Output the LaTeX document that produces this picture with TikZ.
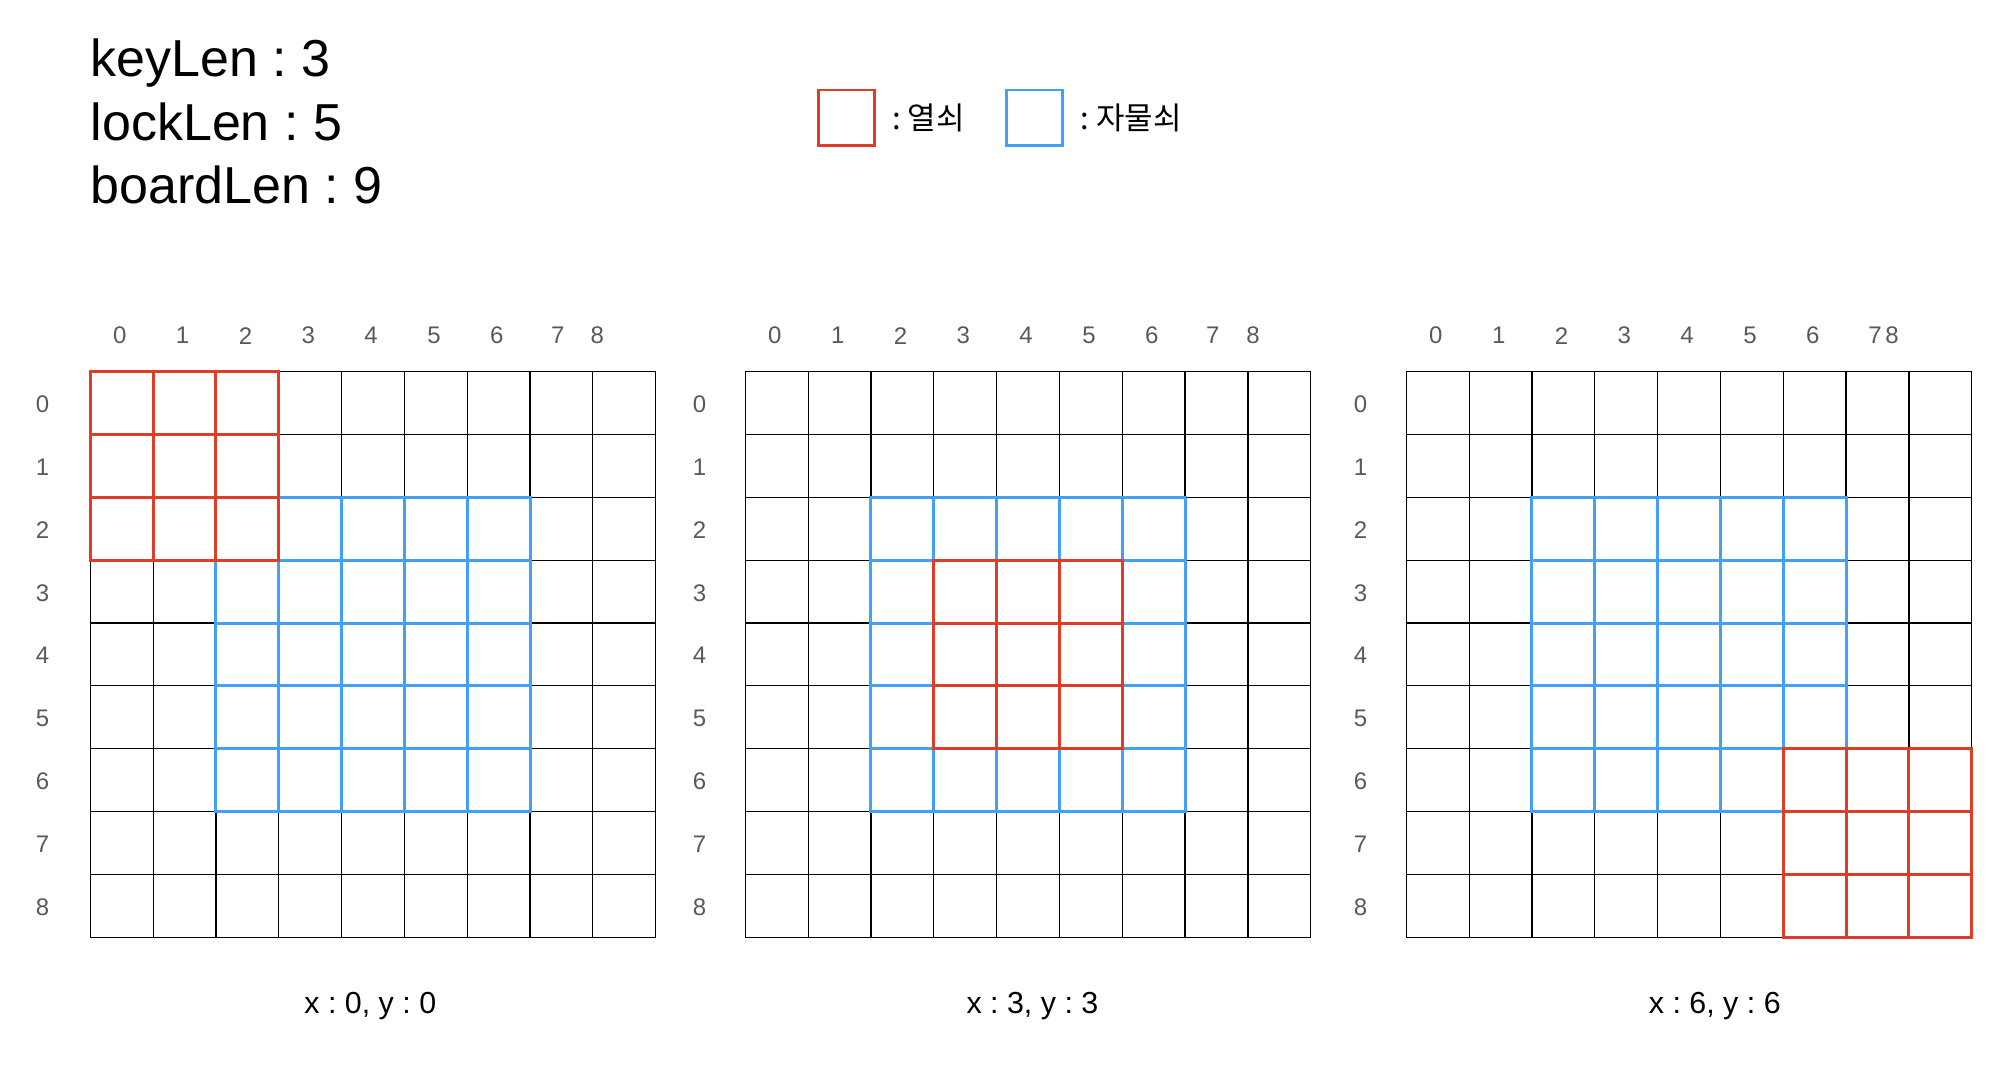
\documentclass[tikz,border=0pt]{standalone}
\usepackage{fontspec}
\setmainfont{Liberation Sans}
\newfontfamily\kofont{Noto Sans CJK KR}
\usepackage{tikz}
\usetikzlibrary{positioning}

\definecolor{keyred}{RGB}{224,61,39}
\definecolor{lockblue}{RGB}{66,160,245}
\frenchspacing

\begin{document}
\begin{tikzpicture}[x=31.41pt,y=31.41pt,
  cellline/.style={line width=0.6pt},
  lockcell/.style={draw=lockblue,line width=1.5pt},
  keycell/.style={draw=keyred,line width=1.5pt},
  idx/.style={font=\fontsize{12}{14}\selectfont,text=black!65,inner sep=0pt},
  info/.style={font=\fontsize{26}{31}\selectfont,anchor=base west,inner sep=0pt},
  legendtxt/.style={font=\kofont\fontsize{15.5}{18}\selectfont,anchor=west,inner sep=0pt},
  caption/.style={font=\fontsize{15.2}{18}\selectfont,anchor=base,inner sep=0pt}]
  \useasboundingbox (-1.4375,5.917) rectangle (30.463,-11.084);

  \node[info] (keylen) at (0,4.696) {keyLen : 3};
  \node[info] (locklen) at (0,3.688) {lockLen : 5};
  \node[info] (boardlen) at (0,2.670) {boardLen : 9};

  \node[keycell,line width=1.4pt,minimum size=27.9pt,inner sep=0pt] (keysq) at (12.04,4.04) {};
  \node[legendtxt] (keytxt) at (12.757,4.04) {: 열쇠};
  \node[lockcell,line width=1.4pt,minimum size=27.9pt,inner sep=0pt] (locksq) at (15.03,4.04) {};
  \node[legendtxt] (locktxt) at (15.755,4.04) {: 자물쇠};

  \foreach \b/\ox/\kx/\rx/\cx/\sv/\ee/\lab in {%
      1/0/0/-0.76/4.457/7.44/8.07/{x : 0, y : 0},
      2/10.427/3/-0.73/4.57/7.44/8.08/{x : 3, y : 3},
      3/20.949/6/-0.73/4.91/7.46/7.73/{x : 6, y : 6}} {
    % board
    \foreach \i in {0,...,9} {
      \draw[cellline] (\ox+\i,0) -- (\ox+\i,-9);
      \draw[cellline] (\ox,-\i) -- (\ox+9,-\i);
    }
    % lock (5x5) at (2,2)
    \foreach \i in {0,...,4}
      \foreach \j in {0,...,4}
        \draw[lockcell] (\ox+2+\i,-2-\j) rectangle ++(1,-1);
    % key (3x3)
    \foreach \i in {0,...,2}
      \foreach \j in {0,...,2}
        \draw[keycell] (\ox+\kx+\i,-\kx-\j) rectangle ++(1,-1);
    % indices
    \foreach \i in {0,...,6}
      \node[idx] (c\b-\i) at (\ox+\i+0.47,0.573) {\i};
    \node[idx] (c\b-7) at (\ox+\sv,0.573) {7};
    \node[idx] (c\b-8) at (\ox+\ee,0.573) {8};
    \foreach \j in {0,...,8}
      \node[idx] (r\b-\j) at (\ox+\rx,-\j-0.52) {\j};
    \node[caption] (cap\b) at (\ox+\cx,-10.21) {\lab};
  }
\end{tikzpicture}
\end{document}
